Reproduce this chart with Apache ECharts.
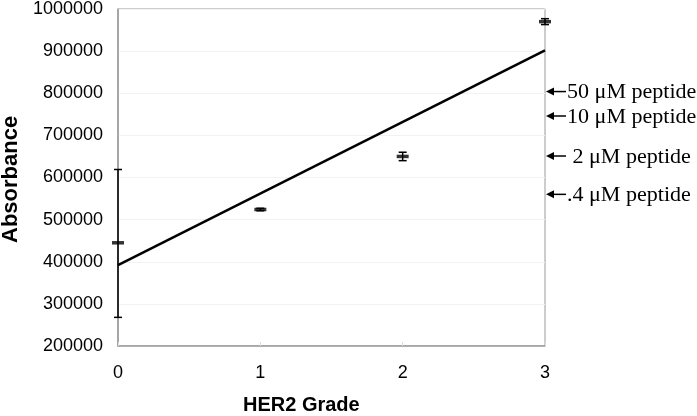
<!DOCTYPE html>
<html>
<head>
<meta charset="utf-8">
<script src="https://cdn.jsdelivr.net/npm/echarts@6/dist/echarts.min.js"></script>
<style>
  html, body { margin: 0; padding: 0; background: #fff; }
  #chart { width: 697px; height: 416px; }
</style>
</head>
<body>
<div id="chart"></div>
<script>
// data
var grades = [0, 1, 2, 3];
var means = [445000, 524000, 650000, 970000];
var errLow = [268000, 521000, 640000, 963000];
var errHigh = [619000, 527000, 660000, 977000];
var trendX = [0, 3];
var trendY = [392000, 902000];
var noteValues = [804000, 746000, 651000, 560000];
var noteTexts = ['50 \u03bcM peptide', '10 \u03bcM peptide', ' 2 \u03bcM peptide', '.4 \u03bcM peptide'];

var chart = echarts.init(document.getElementById('chart'));

var option = {
  animation: false,
  grid: { left: 118, right: 152, top: 6, bottom: 70, show: true, borderColor: '#9a9a9a', borderWidth: 1 },
  xAxis: {
    type: 'value', min: 0, max: 3, interval: 1,
    axisLine: { lineStyle: { color: '#9a9a9a', width: 1.5 } },
    axisTick: { show: true, length: 4, inside: true, lineStyle: { color: '#ddd' } },
    axisLabel: { color: '#000', fontFamily: 'Liberation Sans', fontSize: 18, margin: 18 },
    splitLine: { show: false }
  },
  yAxis: {
    type: 'value', min: 200000, max: 1000000, interval: 100000,
    axisLine: { show: true, lineStyle: { color: '#9a9a9a', width: 1.5 } },
    axisTick: { show: false },
    axisLabel: {
      color: '#000', fontFamily: 'Liberation Sans', fontSize: 18, margin: 15,
      formatter: function (v) { return String(v); }
    },
    splitLine: { lineStyle: { color: '#f2f2f2' } }
  },
  graphic: [
    { type: 'text', left: 243, top: 395, style: { text: 'HER2 Grade', font: 'bold 20px "Liberation Sans"', fill: '#000' } },
    { type: 'text', rotation: Math.PI / 2, x: 0, y: 243, style: { text: 'Absorbance', font: 'bold 22px "Liberation Sans"', fill: '#000' } }
  ],
  series: [
    {
      type: 'line',
      data: trendX.map(function (x, i) { return [x, trendY[i]]; }),
      symbol: 'none',
      lineStyle: { color: '#000', width: 2.5 },
      z: 3
    },
    {
      type: 'custom',
      data: grades.map(function (g, i) { return [g, errLow[i], errHigh[i]]; }),
      renderItem: function (params, api) {
        var lo = api.coord([api.value(0), api.value(1)]);
        var hi = api.coord([api.value(0), api.value(2)]);
        var w = 4;
        var st = { stroke: '#000', lineWidth: 1.5 };
        return {
          type: 'group',
          children: [
            { type: 'line', shape: { x1: lo[0], y1: lo[1], x2: hi[0], y2: hi[1] }, style: st },
            { type: 'line', shape: { x1: lo[0] - w, y1: lo[1], x2: lo[0] + w, y2: lo[1] }, style: st },
            { type: 'line', shape: { x1: hi[0] - w, y1: hi[1], x2: hi[0] + w, y2: hi[1] }, style: st }
          ]
        };
      },
      z: 4
    },
    {
      type: 'scatter',
      data: grades.map(function (g, i) { return [g, means[i]]; }),
      symbol: 'rect',
      symbolSize: [12, 3.5],
      itemStyle: { color: '#000' },
      z: 5
    },
    {
      type: 'custom',
      clip: false,
      data: noteValues.map(function (v, i) { return [3, v, i]; }),
      renderItem: function (params, api) {
        var p = api.coord([api.value(0), api.value(1)]);
        var x0 = p[0] + 1, y = p[1];
        return {
          type: 'group',
          children: [
            { type: 'line', shape: { x1: x0 + 4, y1: y, x2: x0 + 20, y2: y }, style: { stroke: '#000', lineWidth: 1.5 } },
            { type: 'polygon', shape: { points: [[x0, y], [x0 + 8, y - 4], [x0 + 8, y + 4]] }, style: { fill: '#000' } },
            { type: 'text', x: x0 + 21, y: y + 1, scaleX: 1.05, style: { text: noteTexts[api.value(2)], font: '21px "Liberation Serif"', fill: '#000', verticalAlign: 'middle' } }
          ]
        };
      },
      z: 6
    }
  ]
};

chart.setOption(option);
</script>
</body>
</html>
